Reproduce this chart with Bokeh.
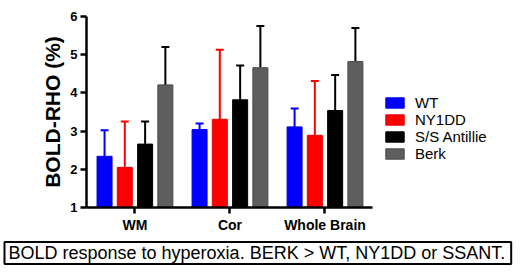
from bokeh.plotting import figure
from bokeh.models import (ColumnDataSource, Whisker, TeeHead, Title, Legend, LegendItem,
                          FixedTicker, Range1d)
from bokeh.embed import file_html
from bokeh.resources import INLINE

groups = ["WM", "Cor", "Whole Brain"]
series = ["WT", "NY1DD", "S/S Antillie", "Berk"]
wt = [2.34, 3.04, 3.11]
wt_err = [0.68, 0.16, 0.48]
ny1dd = [2.05, 3.31, 2.89]
ny1dd_err = [1.20, 1.82, 1.42]
ssant = [2.66, 3.82, 3.54]
ssant_err = [0.59, 0.90, 0.93]
berk = [4.21, 4.66, 4.82]
berk_err = [0.99, 1.09, 0.88]
y_ticks = [1, 2, 3, 4, 5, 6]
caption = "BOLD response to hyperoxia. BERK > WT, NY1DD or SSANT."

values = [wt, ny1dd, ssant, berk]
errors = [wt_err, ny1dd_err, ssant_err, berk_err]
fills = ["#0000ff", "#ff0000", "#000000", "#5e5e5e"]
lines = ["#0000e6", "#e60000", "#000000", "#4a4a4a"]
err_colors = ["#0000ff", "#ff0000", "#000000", "#000000"]
offsets = [-0.32, -0.107, 0.107, 0.32]
bar_w = 0.158

FONT = "Liberation Sans"

p = figure(frame_width=286, frame_height=191,
           min_border_left=86, min_border_right=146, min_border_top=16, min_border_bottom=50,
           x_range=Range1d(-0.51, 2.5), y_range=Range1d(1, 6),
           output_backend="svg", toolbar_location=None, tools="")
p.outline_line_color = None
p.grid.visible = False
p.background_fill_color = "white"
p.border_fill_color = "white"

renderers = []
for i in range(4):
    xs = [g + offsets[i] for g in range(len(groups))]
    src = ColumnDataSource(dict(x=xs, top=values[i],
                                upper=[v + e for v, e in zip(values[i], errors[i])]))
    r = p.vbar(x="x", top="top", bottom=1, width=bar_w, source=src,
               fill_color=fills[i], line_color=lines[i], line_width=1)
    renderers.append(r)
    w = Whisker(base="x", lower="top", upper="upper", source=src, dimension="height",
                line_color=err_colors[i], line_width=2, lower_head=None,
                upper_head=TeeHead(size=8, line_color=err_colors[i], line_width=2))
    p.add_layout(w)

# axes
for ax in (p.xaxis[0], p.yaxis[0]):
    ax.axis_line_width = 2.5
    ax.major_tick_line_width = 2.5
    ax.major_tick_out = 6
    ax.major_tick_in = 0
    ax.minor_tick_line_color = None
    ax.major_label_text_font = FONT
    ax.major_label_text_font_style = "bold"
    ax.major_label_text_color = "black"
    ax.axis_line_color = "black"
    ax.major_tick_line_color = "black"

p.yaxis.ticker = FixedTicker(ticks=y_ticks)
p.yaxis.major_label_text_font_size = "13px"
p.yaxis.major_label_standoff = 3
p.yaxis.axis_label = "BOLD-RHO (%)"
p.yaxis.axis_label_text_font = FONT
p.yaxis.axis_label_text_font_style = "bold"
p.yaxis.axis_label_text_font_size = "21px"
p.yaxis.axis_label_text_color = "black"
p.yaxis.axis_label_standoff = 3

p.xaxis.ticker = FixedTicker(ticks=list(range(len(groups))))
p.xaxis.major_label_overrides = {i: g for i, g in enumerate(groups)}
p.xaxis.major_label_text_font_size = "14px"
p.xaxis.major_label_standoff = 3

legend = Legend(items=[LegendItem(label=s, renderers=[r]) for s, r in zip(series, renderers)],
                location=(11, 45), glyph_width=23, glyph_height=13, label_standoff=9,
                spacing=-1, padding=0, margin=0, border_line_color=None,
                background_fill_alpha=0, label_text_font=FONT, label_text_font_size="15px",
                label_text_color="black", label_height=13)
p.add_layout(legend, "right")

cap = Title(text=caption, align="left", offset=-82, standoff=9,
            text_font=FONT, text_font_size="18px", text_font_style="normal",
            text_color="black", border_line_color="black", border_line_width=2,
            padding=dict(left=4, right=6, top=1, bottom=1), background_fill_color="white")
p.add_layout(cap, "below")

open("out.html", "w").write(file_html(p, INLINE))
